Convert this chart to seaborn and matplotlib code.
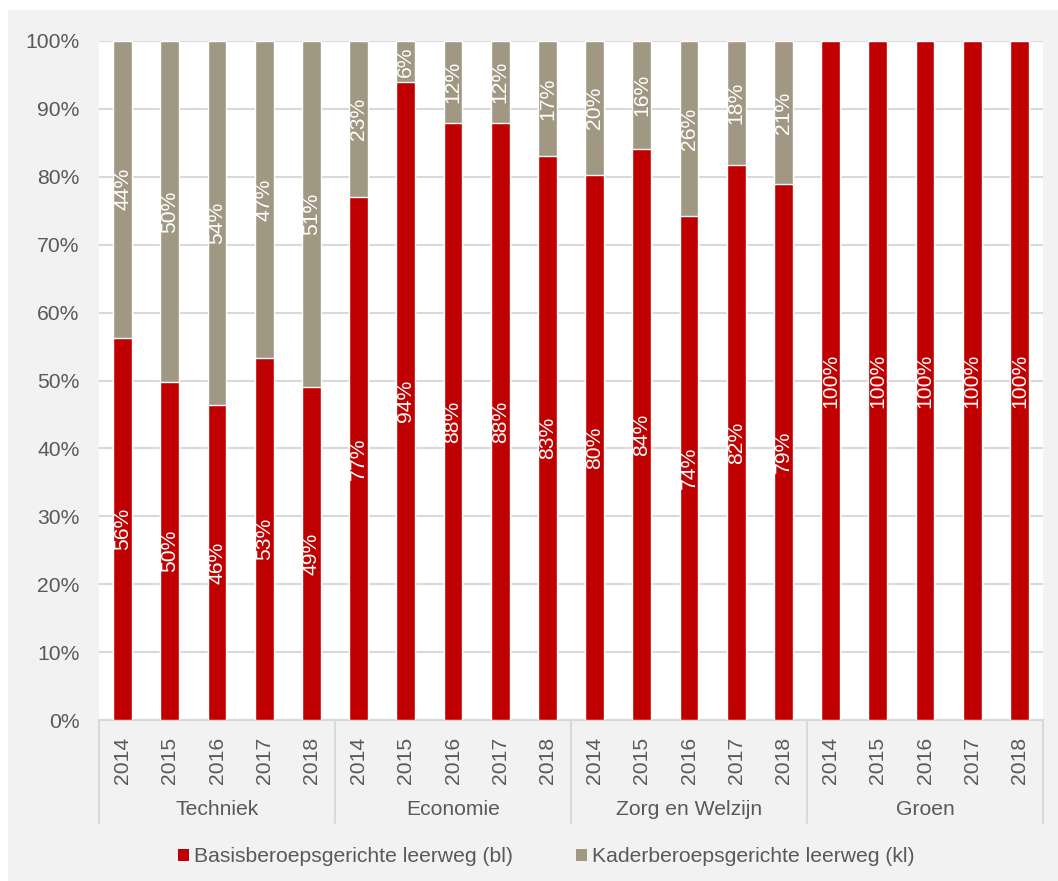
import matplotlib
matplotlib.use("Agg")
import matplotlib.pyplot as plt
import matplotlib.transforms as mtransforms
from matplotlib.patches import Rectangle, Patch
import numpy as np
import pandas as pd
import seaborn as sns

# data
groups = ["Techniek", "Economie", "Zorg en Welzijn", "Groen"]
years = ["2014", "2015", "2016", "2017", "2018"]
bl_values = [56.3, 49.8, 46.4, 53.3, 49.0,
             77.0, 94.0, 87.9, 87.9, 83.1,
             80.3, 84.1, 74.2, 81.7, 78.9,
             100, 100, 100, 100, 100]
kl_values = [43.7, 50.2, 53.6, 46.7, 51.0,
             23.0, 6.0, 12.1, 12.1, 16.9,
             19.7, 15.9, 25.8, 18.3, 21.1,
             0, 0, 0, 0, 0]
series_names = ["Basisberoepsgerichte leerweg (bl)", "Kaderberoepsgerichte leerweg (kl)"]

RED = "#C00000"
GREY = "#A09883"
TXT = "#595959"
LINE = "#D9D9D9"
FS = 15.2

keys = [f"{g} {y}" for g in groups for y in years]
df = pd.DataFrame({
    "key": keys,
    "bl": bl_values,
    "kl": kl_values,
})
df["total"] = df["bl"] + df["kl"]

sns.set_theme(style="white")
plt.rcParams["font.family"] = ["Liberation Sans", "DejaVu Sans"]

fig = plt.figure(figsize=(10.58, 8.81), dpi=100)
fig.patch.set_facecolor("white")
fig.patches.append(Rectangle((8 / 1058, 0), 1 - 8 / 1058, 1 - 10 / 881,
                             transform=fig.transFigure, facecolor="#F2F2F2",
                             edgecolor="none", zorder=-10))

ax = fig.add_axes([99 / 1058, 1 - 720 / 881, (1043 - 99) / 1058, (720 - 41) / 881])
ax.set_facecolor("white")

# stacked bars: grey total behind, red bl in front
sns.barplot(data=df, x="key", y="total", order=keys, color=GREY, width=0.4,
            saturation=1, errorbar=None, ax=ax, zorder=2)
sns.barplot(data=df, x="key", y="bl", order=keys, color=RED, width=0.4,
            saturation=1, errorbar=None, ax=ax, zorder=3)

for i, (bl, kl) in enumerate(zip(df["bl"], df["kl"])):
    ax.text(i, bl / 2, f"{round(bl)}%", rotation=90, ha="center", va="center",
            color="white", fontsize=FS, zorder=5)
    if round(kl) > 0:
        ax.text(i, bl + kl / 2, f"{round(kl)}%", rotation=90, ha="center", va="center",
                color="white", fontsize=FS, zorder=5)

ax.set_xlim(-0.5, len(keys) - 0.5)
ax.set_ylim(0, 100)
ax.set_yticks(np.arange(0, 101, 10))
ax.set_yticklabels([f"{v}%" for v in range(0, 101, 10)])
ax.set_xticks(range(len(keys)))
ax.set_xticklabels(years * len(groups), rotation=90)
ax.tick_params(axis="x", length=0, pad=12, labelsize=FS, colors=TXT)
ax.tick_params(axis="y", length=0, pad=14, labelsize=FS, colors=TXT)
ax.set_xlabel("")
ax.set_ylabel("")
ax.yaxis.grid(True, color=LINE, linewidth=1.5, zorder=0)
ax.set_axisbelow(True)
for side in ["left", "right", "top"]:
    ax.spines[side].set_visible(False)
ax.spines["bottom"].set_color(LINE)
ax.spines["bottom"].set_linewidth(1.5)

# group separators and group labels under the axis
trans = mtransforms.blended_transform_factory(ax.transData, ax.transAxes)
for k in range(len(groups) + 1):
    xs = k * len(years) - 0.5
    ax.plot([xs, xs], [0, -0.152], transform=trans, color=LINE, lw=1.5, clip_on=False)
for k, g in enumerate(groups):
    ax.text(k * len(years) + (len(years) - 1) / 2, -0.1325, g, transform=trans,
            ha="center", va="center", fontsize=FS, color=TXT)

handles = [Patch(facecolor=RED, edgecolor="none"), Patch(facecolor=GREY, edgecolor="none")]
leg = fig.legend(handles, series_names, loc="center", bbox_to_anchor=(0.516, 1 - 857 / 881),
                 ncol=2, frameon=False, fontsize=FS, handlelength=0.55, handleheight=0.55,
                 handletextpad=0.2, columnspacing=3.0)
for t in leg.get_texts():
    t.set_color(TXT)

fig.savefig("out.png", dpi=100, facecolor=fig.get_facecolor())
